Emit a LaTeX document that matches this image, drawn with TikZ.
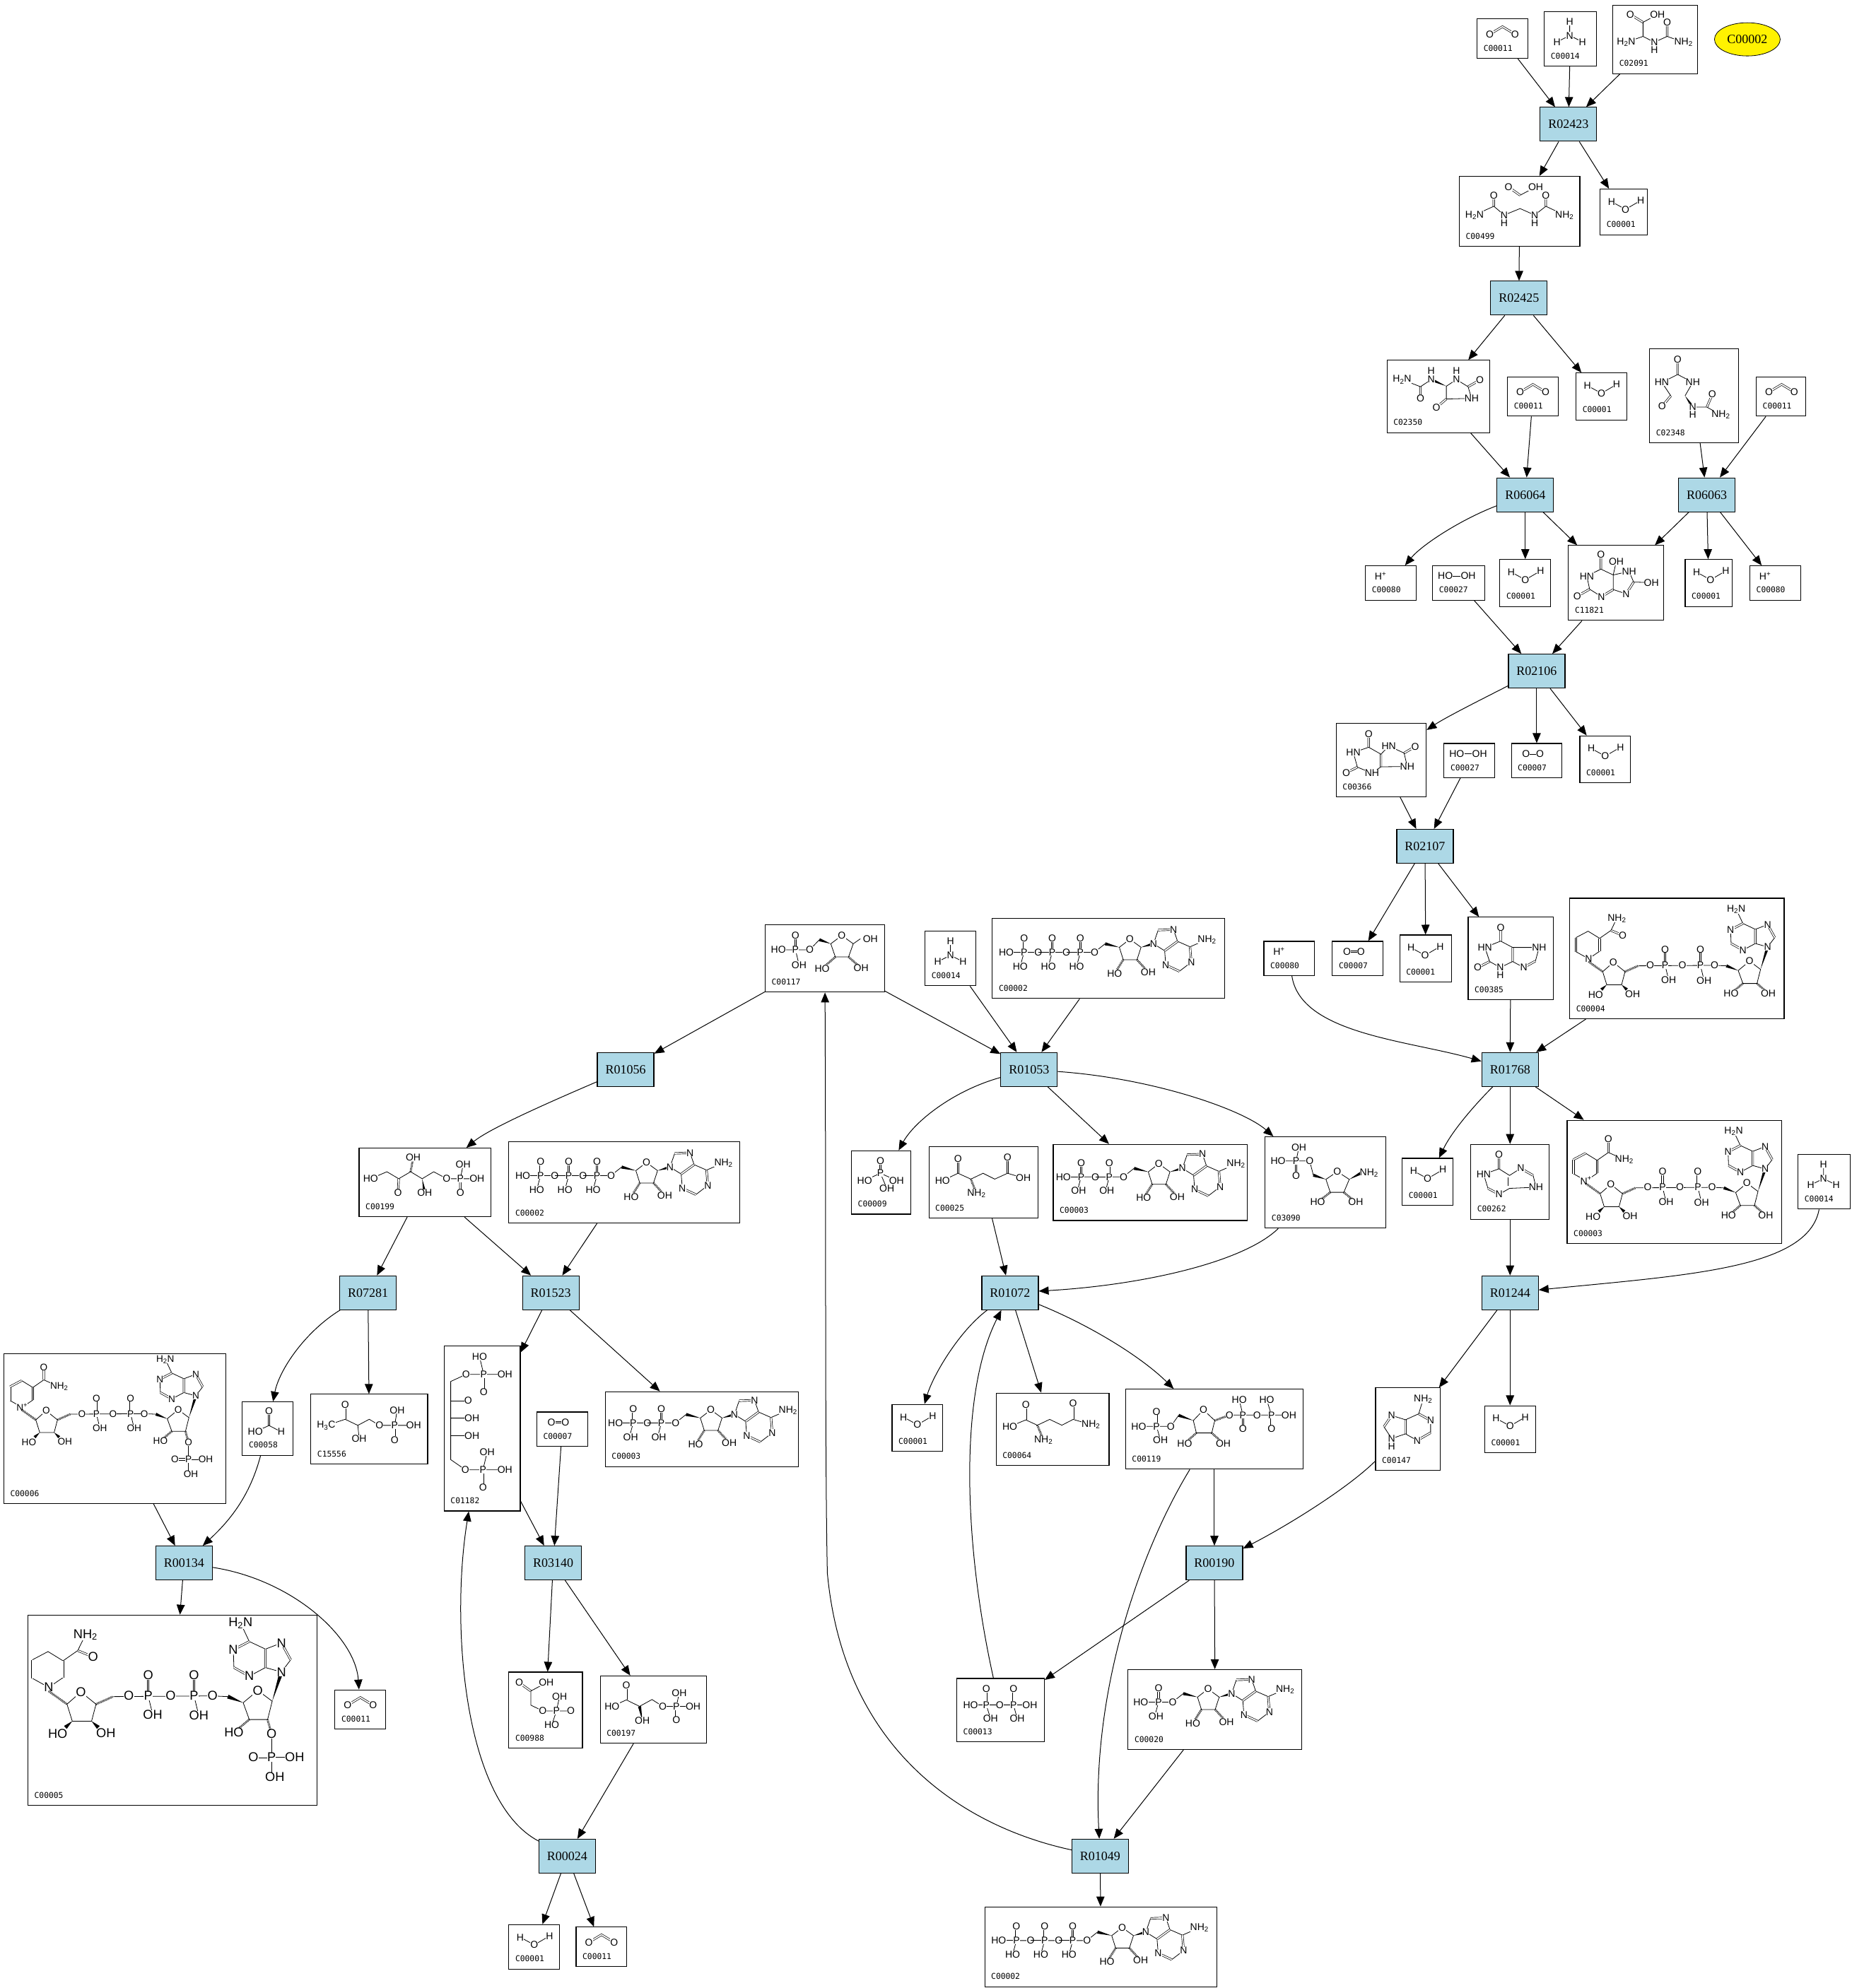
\documentclass[tikz,border=0pt]{standalone}
\usepackage{fontspec}
\setmainfont{Liberation Serif}
\setsansfont{Liberation Sans}
\setmonofont{DejaVu Sans Mono}
\usetikzlibrary{arrows.meta,calc,shapes.geometric}
\definecolor{rxnblue}{RGB}{173,216,230}
\newcounter{atomno}
\newcommand{\atom}[2]{\stepcounter{atomno}\node[atom] (atom\arabic{atomno}) at (#1) {#2};}
\newcommand{\wdg}[2]{\fill (#1) -- ($(#2)!2.2pt!90:(#1)$) -- ($(#2)!2.2pt!-90:(#1)$) -- cycle;}
\newcommand{\cpd}[8][]{%
  \node[cpdbox,minimum width={(#5-#3)*1.795pt},minimum height={(#6-#4)*1.795pt}] (#2) at ({(#3+#5)/2},{(#4+#6)/2}) {};
  \node[cpdid] (#2-id) at (#3+5,#6-8) {#7};
  \pic[#1] at (#3,#4) {#8};}
\tikzset{
  rxn/.style={draw,line width=1.1pt,fill=rxnblue,minimum width=80pt,minimum height=48pt,inner sep=0pt,font=\fontsize{18}{18}\selectfont},
  cpdbox/.style={draw,line width=1.1pt,fill=white,inner sep=0pt},
  cpdid/.style={anchor=west,inner sep=0pt,font=\ttfamily\fontsize{11.3}{11.3}\selectfont},
  atom/.style={fill=white,inner sep=.2pt,font=\sffamily\fontsize{14}{14}\selectfont},
  bond/.style={line width=.8pt},
  dbl/.style={line width=.7pt,double,double distance=1.7pt},
  hash/.style={line width=3pt,dash pattern=on .8pt off 1.1pt},
  arr/.style={line width=1pt,-{Triangle[length=14pt,width=11.5pt]}},
  water/.pic={\draw[bond] (9,10)--(20,16)--(32,9);
    \atom{9,10}{H}\atom{20,16}{O}\atom{32,9}{H}},
  cotwo/.pic={\draw[dbl] (10,12)--(20,6)--(30,12);
    \atom{10,12}{O}\atom{30,12}{O}},
  ammonia/.pic={\draw[bond] (20,8)--(20,19) (10,24)--(20,19)--(30,24);
    \atom{20,8}{H}\atom{20,19}{N}\atom{10,24}{H}\atom{30,24}{H}},
  dioxygen/.pic={\draw[dbl] (12,8)--(22,8);\atom{11.5,8}{O}\atom{22.5,8}{O}},
  peroxide/.pic={\draw[bond] (10,8)--(28,8);\atom{10,8}{HO}\atom{28,8}{OH}},
  proton/.pic={\atom{12,8}{H\textsuperscript{+}}},
  phosphate/.pic={\draw[dbl] (22.8,8)--(22.8,17.8);
    \draw[bond] (10.4,23.4)--(22.8,17.8)--(35.5,23.4) (22.8,17.8)--(27.9,29.9);
    \atom{22.8,8}{O}\atom{22.8,17.8}{P}\atom{10.4,23.4}{HO}\atom{35.5,23.4}{OH}\atom{27.9,29.9}{OH}},
  formate/.pic={\draw[dbl] (21,7.4)--(21,18.6);
    \draw[bond] (10.2,23.6)--(21,18.6)--(30.6,23.6);
    \atom{21,7.4}{O}\atom{10.2,23.6}{HO}\atom{30.6,23.6}{H}},
  allantoate/.pic={\draw[dbl] (13.8,7.4)--(23.8,13.6) (42.8,13.6)--(42.8,24.7);
    \draw[bond] (35.2,7.4)--(23.8,13.6)--(23.8,24.7)--(10.5,29.3) (23.8,24.7)--(32.7,29.3)--(42.8,24.7)--(55.7,29.3);
    \atom{13.8,7.4}{O}\atom{35.2,7.4}{OH}\atom{10.5,29.3}{H\textsubscript{2}N}\atom{32.7,29.3}{N}\atom{32.7,35.3}{H}
    \atom{42.8,13.6}{O}\atom{55.7,29.3}{NH\textsubscript{2}}},
  ureidoglycolate/.pic={\draw[dbl] (38.8,8.4)--(47.9,14.9) (27.2,15.2)--(27.2,23.6) (68.2,15.2)--(68.2,23.6);
    \draw[bond] (60.2,8.4)--(47.9,14.9);
    \draw[bond] (12,30.5)--(27.2,23.6)--(35.4,30.5)--(47.9,25.4)--(59.4,30.5)--(68.2,23.6)--(82.9,30.5);
    \atom{38.8,8.4}{O}\atom{60.2,8.4}{OH}\atom{27.2,15.2}{O}\atom{68.2,15.2}{O}\atom{12,30.5}{H\textsubscript{2}N}
    \atom{35.4,30.5}{N}\atom{35.4,36.6}{H}\atom{59.4,30.5}{N}\atom{59.4,36.6}{H}\atom{82.9,30.5}{NH\textsubscript{2}}},
  allantoin/.pic={\draw[dbl] (26.4,20.8)--(26.4,30) (63.9,20.8)--(73.2,15.6) (46.8,30.5)--(39,37.1);
    \draw[bond] (11.9,15.2)--(26.4,20.8)--(34.9,15.2) (46.8,20.4)--(54.8,15.2)--(63.9,20.8)--(66.7,30)--(46.8,30.5)--cycle;
    \wdg{46.8,20.4}{34.9,15.2}
    \atom{11.9,15.2}{H\textsubscript{2}N}\atom{26.4,30}{O}\atom{34.9,15.2}{N}\atom{34.9,8.2}{H}\atom{54.8,15.2}{N}\atom{54.8,8.2}{H}
    \atom{73.2,15.6}{O}\atom{66.7,30}{NH}\atom{39,37.1}{O}},
  oxuric/.pic={\draw[dbl] (22.1,8.5)--(22.1,20.2) (16.7,37)--(9.8,45.3) (45.1,45.9)--(49.4,35.8);
    \draw[bond] (9.6,26.4)--(22.1,20.2)--(34,26.4)--(27.9,37) (9.6,26.4)--(16.7,37) (34,45.9)--(45.1,45.9)--(56.1,52);
    \wdg{27.9,37}{34,45.9}
    \atom{22.1,8.5}{O}\atom{9.6,26.4}{HN}\atom{34,26.4}{NH}\atom{9.8,45.3}{O}\atom{34,45.9}{N}\atom{34,51.9}{H}
    \atom{49.4,35.8}{O}\atom{56.1,52}{NH\textsubscript{2}}},
  hydroxyurate/.pic={\draw[dbl] (25.6,7)--(25.6,18.6) (16.7,34.4)--(7,39.9) (26,40.3)--(35.3,34.7) (51.4,28.8)--(45.5,38.1);
    \draw[bond] (25.6,18.6)--(14.5,24.1)--(16.7,34.4)--(26,40.3) (35.3,34.7)--(35.3,23.2)--(25.6,18.6);
    \draw[bond] (35.3,23.2)--(37.7,12.6) (35.3,23.2)--(47.8,20.4)--(51.4,28.8)--(65.4,29.2) (45.5,38.1)--(35.3,34.7);
    \atom{25.6,7}{O}\atom{14.5,24.1}{HN}\atom{7,39.9}{O}\atom{26,40.3}{N}\atom{37.7,12.6}{OH}\atom{47.8,20.4}{NH}\atom{65.4,29.2}{OH}\atom{45.5,38.1}{N}},
  urate/.pic={\draw[dbl] (25.6,8.7)--(25.6,19) (16.7,34.7)--(8,39) (35.3,34.4)--(35.3,24.5) (53.5,23.6)--(62.2,18.4);
    \draw[bond] (25.6,19)--(13.5,23.2)--(16.7,34.7)--(28.2,39.4)--(35.3,34.4) (35.3,24.5)--(25.6,19);
    \draw[bond] (35.3,24.5)--(41.4,18)--(53.5,23.6)--(56,34.2)--(35.3,34.4);
    \atom{25.6,8.7}{O}\atom{13.5,23.2}{HN}\atom{8,39}{O}\atom{28.2,39.4}{NH}\atom{41.4,18}{HN}\atom{62.2,18.4}{O}\atom{56,34.2}{NH}},
  xanthine/.pic={\draw[dbl] (25.6,8)--(25.6,18.8) (16.9,34.9)--(7.6,39.6) (35,34.9)--(35,23.8) (53,34.5)--(43.8,39.6);
    \draw[bond] (25.6,18.8)--(13.2,23.8)--(16.9,34.9)--(25.3,39.6)--(35,34.9) (35,23.8)--(25.6,18.8);
    \draw[bond] (35,23.8)--(55.9,23.8)--(53,34.5) (43.8,39.6)--(35,34.9);
    \atom{25.6,8}{O}\atom{13.2,23.8}{HN}\atom{7.6,39.6}{O}\atom{25.3,39.6}{N}\atom{25.3,45.7}{H}\atom{55.9,23.8}{NH}\atom{43.8,39.6}{N}},
  hypoxanthine/.pic={\draw[dbl] (22.3,8.2)--(22.3,19.3) (13.6,34.7)--(22.3,39.4) (39.4,18.9)--(49.2,24.5);
    \draw[bond] (22.3,19.3)--(10.2,23.6)--(13.6,34.7) (22.3,39.4)--(30.6,34.7)--(51.4,33.8)--(49.2,24.5) (22.3,19.3)--(30.6,24.5)--(39.4,18.9);
    \draw[bond] (29.4,33)--(29.4,26);
    \atom{22.3,8.2}{O}\atom{10.2,23.6}{HN}\atom{22.3,39.4}{N}\atom{39.4,18.9}{N}\atom{51.4,33.8}{NH}},
  adenine/.pic={\draw[dbl] (34,20.4)--(43.4,25.6) (43.4,35.3)--(32.8,41.4) (23.6,36.2)--(23.6,25.1) (12.7,21.7)--(6.6,30.6);
    \draw[bond] (37.5,8.9)--(34,20.4)--(23.6,25.1)--(12.7,21.7) (43.4,25.6)--(43.4,35.3) (32.8,41.4)--(23.6,36.2)--(12.7,39.9)--(6.6,30.6);
    \atom{37.5,8.9}{NH\textsubscript{2}}\atom{43.4,25.6}{N}\atom{32.8,41.4}{N}\atom{12.7,21.7}{N}\atom{12.7,39.9}{N}\atom{12.7,45.9}{H}},
  ribosefive/.pic={\draw[dbl] (23.9,8.4)--(23.9,19.7);
    \draw[bond] (10.4,19.7)--(35.1,19.7)--(42.7,11.7) (23.9,19.7)--(26.7,31.6);
    \draw[bond] (51.7,14.9)--(60.4,8.4)--(69.4,14.9)--(65.7,25.3)--(55.3,25.3)--cycle (69.4,14.9)--(75,11) ;
    \wdg{51.7,14.9}{42.7,11.7}
    \draw[hash] (55.3,25.3)--(44.9,34.4) (65.7,25.3)--(75.6,34);
    \atom{10.4,19.7}{HO}\atom{23.9,19.7}{P}\atom{23.9,8.4}{O}\atom{26.7,31.6}{OH}\atom{35.1,19.7}{O}\atom{60.4,8.4}{O}
    \atom{44.9,34.4}{HO}\atom{75.6,34}{OH}\atom{82.9,11.1}{OH}},
  ribulose/.pic={\draw[dbl] (31.2,24.1)--(30.7,35.3) (79.8,24.1)--(79.8,35.3);
    \draw[bond] (9.1,24.1)--(21.9,18.6)--(31.2,24.1)--(40.6,18.6)--(49.7,24.1)--(58.8,18.6)--(69,24.1)--(92.9,24.1) (79.8,24.1)--(82,13);
    \draw[hash] (40.6,18.6)--(42.6,7.4);
    \wdg{49.7,24.1}{51.7,35.3}
    \atom{9.1,24.1}{HO}\atom{30.7,35.3}{O}\atom{42.6,7.4}{OH}\atom{51.7,35.3}{OH}\atom{69,24.1}{O}\atom{79.8,24.1}{P}
    \atom{82,13}{OH}\atom{92.9,24.1}{OH}\atom{79.8,35.3}{O}},
  glutamate/.pic={\draw[dbl] (23,9.3)--(23,20.8) (62,8.4)--(62,20.8);
    \draw[bond] (10.7,26.6)--(23,20.8)--(33.1,25.4)--(42.7,20.8)--(51.9,25.4)--(62,20.8)--(74.4,24.5);
    \draw[hash] (33.1,25.4)--(37.5,36.8);
    \atom{23,9.3}{O}\atom{10.7,26.6}{HO}\atom{37.5,36.8}{NH\textsubscript{2}}\atom{62,8.4}{O}\atom{74.4,24.5}{OH}},
  glutamine/.pic={\draw[dbl] (23.4,9.3)--(23.4,21.2) (60.7,8.4)--(60.7,20.8);
    \draw[bond] (10.8,26.4)--(23.4,21.2)--(32.5,25.4)--(42.2,20.8)--(51.8,25.4)--(60.7,20.8)--(74.7,24.9);
    \draw[hash] (32.5,25.4)--(37.3,37.1);
    \atom{23.4,9.3}{O}\atom{10.8,26.4}{HO}\atom{37.3,37.1}{NH\textsubscript{2}}\atom{60.7,8.4}{O}\atom{74.7,24.9}{NH\textsubscript{2}}},
  ribosylamine/.pic={\draw[dbl] (24.4,19.1)--(24.4,30.6);
    \draw[bond] (24.4,19.1)--(26.6,8.4) (10.2,19.1)--(35.1,19.1)--(38,30.3);
    \draw[bond] (47.9,33.6)--(56.9,27.5)--(66.3,33.6)--(62,43.8)--(51.3,43.8)--cycle;
    \wdg{47.9,33.6}{38,30.3}\wdg{66.3,33.6}{76,28.4}
    \draw[hash] (51.3,43.8)--(41.4,51.6) (62,43.8)--(71.4,51.6);
    \atom{26.6,8.4}{OH}\atom{10.2,19.1}{HO}\atom{24.4,19.1}{P}\atom{24.4,30.6}{O}\atom{35.1,19.1}{O}\atom{56.9,27.5}{O}
    \atom{41.4,51.6}{HO}\atom{71.4,51.6}{OH}\atom{81.9,28.4}{NH\textsubscript{2}}},
  prpp/.pic={\draw[dbl] (24.4,17.6)--(24.4,29.3) (92.5,20.4)--(92.5,31.2) (115,20.4)--(115,31.2);
    \draw[bond] (10.4,29.3)--(35.7,29.3)--(41.8,20.6) (24.4,29.3)--(27.5,40.1);
    \draw[bond] (53.4,24.7)--(61.4,16.3)--(70.3,24.7)--(67.9,34.5)--(55.8,34.5)--cycle;
    \draw[bond] (81.9,20.4)--(128.7,20.4) (92.5,20.4)--(89.6,8.5) (115,20.4)--(111.3,8.5);
    \wdg{53.4,24.7}{41.8,20.6}
    \draw[hash] (55.8,34.5)--(46.6,42.7) (67.9,34.5)--(77,42.7) (70.3,24.7)--(81.9,20.4);
    \atom{10.4,29.3}{HO}\atom{24.4,29.3}{P}\atom{24.4,17.6}{O}\atom{27.5,40.1}{OH}\atom{35.7,29.3}{O}\atom{61.4,16.3}{O}
    \atom{46.6,42.7}{HO}\atom{77,42.7}{OH}\atom{81.9,20.4}{O}\atom{92.5,20.4}{P}\atom{89.6,8.5}{HO}\atom{92.5,31.2}{O}
    \atom{103.6,20.4}{O}\atom{115,20.4}{P}\atom{111.3,8.5}{HO}\atom{115,31.2}{O}\atom{128.7,20.4}{OH}},
  acetylphos/.pic={\draw[dbl] (8.2,8.4)--(17.3,14.9);
    \draw[bond] (29.5,8.4)--(17.3,14.9)--(17.3,26)--(26.7,30.6)--(48.9,30.6) (37.5,30.6)--(40,19.1) (37.5,30.6)--(33.8,41.8);
    \atom{8.2,8.4}{O}\atom{29.5,8.4}{OH}\atom{26.7,30.6}{O}\atom{37.5,30.6}{P}\atom{40,19.1}{OH}\atom{48.9,30.6}{O}\atom{33.8,41.8}{HO}},
  glycerate/.pic={\draw[dbl] (20.6,7.2)--(20.6,18.9) (60,24)--(60,34.7);
    \draw[bond] (9.3,24)--(20.6,18.9)--(31,24)--(40.8,18.6)--(49.3,24)--(73.2,24) (60,24)--(62.3,13.4);
    \wdg{33.2,35.3}{31,24}
    \atom{20.6,7.2}{O}\atom{9.3,24}{HO}\atom{33.2,35.3}{OH}\atom{49.3,24}{O}\atom{60,24}{P}\atom{62.3,13.4}{OH}\atom{73.2,24}{OH}\atom{60,34.7}{O}},
  diphosphate/.pic={\draw[dbl] (23.2,8.2)--(23.2,20.8) (44.7,8.2)--(44.7,20.8);
    \draw[bond] (10.9,20.8)--(57.6,20.8) (23.2,20.8)--(26.6,31.6) (44.7,20.8)--(47.6,31.6);
    \atom{10.9,20.8}{HO}\atom{23.2,20.8}{P}\atom{23.2,8.2}{O}\atom{26.6,31.6}{OH}\atom{33.8,20.8}{O}\atom{44.7,20.8}{P}\atom{44.7,8.2}{O}\atom{47.6,31.6}{OH}\atom{57.6,20.8}{OH}},
  acetol/.pic={\draw[dbl] (27,8.2)--(27,19.7) (66,24.5)--(66,36);
    \draw[bond] (12,24.7)--(27,19.7)--(37,24.5)--(46,19.7)--(54,24.5)--(81,24.5) (37,24.5)--(38,35) (66,24.5)--(68,12.5);
    \atom{12,24.7}{H\textsubscript{3}C}\atom{27,8.2}{O}\atom{38,35}{OH}\atom{54,24.5}{O}\atom{66,24.5}{P}\atom{68,12.5}{OH}\atom{81,24.5}{OH}\atom{66,36}{O}},
  bisphos/.pic={\draw[dbl] (31.2,22.3)--(31.2,36.2) (5.2,42.7)--(18.9,42.7) (30.6,97.5)--(30.6,111.4);
    \draw[bond] (27.9,8.4)--(31.2,22.3) (17.3,22.3)--(47.9,22.3) (17.3,22.3)--(5.2,27.9)--(5.2,89.5)--(16.7,97.5)--(47.9,97.5) (5.2,56.8)--(21.9,56.8) (5.2,70.6)--(21.9,70.6) (30.6,97.5)--(33.9,83.6);
    \atom{27.9,8.4}{HO}\atom{31.2,22.3}{P}\atom{17.3,22.3}{O}\atom{47.9,22.3}{OH}\atom{31.2,36.2}{O}\atom{18.9,42.7}{O}\atom{21.9,56.8}{OH}\atom{21.9,70.6}{OH}
    \atom{16.7,97.5}{O}\atom{30.6,97.5}{P}\atom{33.9,83.6}{OH}\atom{47.9,97.5}{OH}\atom{30.6,111.4}{O}},
  pics/ntp/.style={code={
    \pgfmathsetmacro\oxo{36.2+22.2*(#1-1)}
    \draw[bond] (11,26.6)--(25,26.6);
    \foreach \i in {1,...,#1}{
      \pgfmathsetmacro\px{25+22.2*(\i-1)}
      \draw[bond] (\px,26.6)--({\px+11},26.6) (\px,26.6)--({\px-3},37.7);
      \ifnum\i>1 \draw[bond] ({\px-11},26.6)--(\px,26.6);\fi
      \draw[dbl] (\px,26.6)--(\px,15.6);
      \atom{\px,26.6}{P}\atom{\px,15.6}{O}\atom{{\px+11.2},26.6}{O}
      \ifnum#1=3 \atom{{\px-3},37.7}{HO}\else \atom{{\px-2},37.7}{OH}\fi
    }
    \atom{11,26.6}{HO}
    \begin{scope}[shift={(\oxo,26.6)}]
      \draw[bond] (3,-2.5)--(8.3,-6.7);
      \wdg{19.5,-3.9}{8.3,-6.7}\wdg{36.6,-3.9}{46.4,-6.7}
      \draw[bond] (19.5,-3.9)--(27.8,-10.3)--(36.6,-3.9)--(33.4,5.9)--(22.6,5.9)--cycle;
      \draw[hash] (22.6,5.9)--(15.8,16.7) (33.4,5.9)--(42.3,15.6);
      \draw[bond] (46.4,-6.7)--(50.1,-17.5) (62.2,-17.9)--(65.4,-8.6) (55.2,-1.2)--(46.4,-6.7) (55.2,-1.2)--(56.1,10) (66.8,15)--(76.2,7.8) (75.2,-4.3)--(65.4,-8.6) (75.2,-4.3)--(88.6,-10.1);
      \draw[dbl] (50.1,-17.5)--(62.2,-17.9) (55.2,-1.2)--(65.4,-8.6) (56.1,10)--(66.8,15) (76.2,7.8)--(75.2,-4.3);
      \atom{27.8,-10.3}{O}\atom{15.8,16.7}{HO}\atom{42.3,15.6}{OH}\atom{46.4,-6.7}{N}\atom{62.2,-17.9}{N}\atom{56.1,10}{N}\atom{76.2,7.8}{N}\atom{88.6,-10.1}{NH\textsubscript{2}}
    \end{scope}}},
  pics/nad/.style 2 args={code={
    \draw[bond] (14.9,47.7)--(5,42.2) (5,31)--(14.5,26)--(23.6,31.6) (23.6,41.8)--(14.9,47.7) (23.6,31.6)--(32.5,25.4);
    \draw[dbl] (5,42.2)--(5,31) (23.6,31.6)--(23.6,41.8);
    \ifnum#1=1
      \draw[dbl] (5,31)--(14.5,26) (32.5,25.4)--(32.5,15);
      \draw[bond] (32.5,25.4)--(45,31);
      \atom{32.5,15}{O}\atom{45,31}{NH\textsubscript{2}}\atom{14.9,47.7}{N\textsuperscript{+}}
    \else
      \draw[dbl] (32.5,25.4)--(41.8,29.2);
      \draw[bond] (32.5,25.4)--(37.2,15.8);
      \atom{37.2,15.8}{NH\textsubscript{2}}\atom{41.8,29.2}{O}\atom{14.9,47.7}{N}
    \fi
    \draw[hash] (14.9,50)--(26,57.9) (43.6,57.9)--(53.9,53.3);
    \draw[bond] (26,57.9)--(34.4,50.5)--(43.6,57.9)--(40.9,68.2)--(29.2,68.2)--cycle;
    \wdg{29.2,68.2}{25,72}\wdg{40.9,68.2}{45,72}
    \draw[bond] (53.9,53.3)--(114.2,52.9)--(123.5,53.3) (75.2,52.9)--(78,64.4) (103,52.9)--(105.9,64.8);
    \draw[dbl] (75.2,52.9)--(75.2,40.3) (103,52.9)--(103,40.3);
    \wdg{132.8,57}{123.5,53.3}\wdg{150.4,56.1}{156,38.4}
    \draw[bond] (132.8,57)--(141.7,49.6)--(150.4,56.1)--(147.6,67.2)--(136.5,67.2)--cycle;
    \draw[hash] (136.5,67.2)--(127.2,75);
    \ifnum#2=1
      \draw[hash] (147.6,67.2)--(150,76);
      \draw[bond] (150,76)--(150,102) (150,90)--(164,90);
      \draw[dbl] (150,90)--(139,90);
      \atom{150,76}{O}\atom{150,90}{P}\atom{139,90}{O}\atom{164,90}{OH}\atom{152,102}{OH}
    \else
      \draw[hash] (147.6,67.2)--(156.5,75);
      \atom{156.5,75}{OH}
    \fi
    \draw[bond] (156,38.4)--(161.6,31) (156,20.8)--(146.3,24.5) (146.3,35.7)--(156,38.4) (146.3,35.7)--(136.5,40.9) (127.2,35.7)--(126.8,24.9) (136.5,19.9)--(146.3,24.5) (136.5,19.9)--(131.2,8.7);
    \draw[dbl] (161.6,31)--(156,20.8) (146.3,24.5)--(146.3,35.7) (136.5,40.9)--(127.2,35.7) (126.8,24.9)--(136.5,19.9);
    \atom{34.4,50.5}{O}\atom{20.4,76}{HO}\atom{49.6,75.6}{OH}\atom{63.5,52.9}{O}\atom{75.2,52.9}{P}\atom{75.2,40.3}{O}\atom{78,64.4}{OH}\atom{88.8,52.9}{O}\atom{103,52.9}{P}\atom{103,40.3}{O}\atom{105.9,64.8}{OH}\atom{114.2,52.9}{O}
    \atom{141.7,49.6}{O}\atom{127.2,75}{HO}\atom{156,38.4}{N}\atom{156,20.8}{N}\atom{136.5,40.9}{N}\atom{126.8,24.9}{N}\atom{131.2,8.7}{H\textsubscript{2}N}}}
}
\begin{document}
\begin{tikzpicture}[x=1.795pt,y=-1.795pt]
  \useasboundingbox (0,0) rectangle (1459,1567);
  % reactions
  \node[rxn] (r02423) at (1236,98) {R02423};
  \node[rxn] (r02425) at (1197,235) {R02425};
  \node[rxn] (r06064) at (1202,390) {R06064};
  \node[rxn] (r06063) at (1345,390) {R06063};
  \node[rxn] (r02106) at (1211,529) {R02106};
  \node[rxn] (r02107) at (1123,667) {R02107};
  \node[rxn] (r01768) at (1190,843) {R01768};
  \node[rxn] (r01244) at (1190,1019) {R01244};
  \node[rxn] (r01053) at (811,843) {R01053};
  \node[rxn] (r01056) at (493,843) {R01056};
  \node[rxn] (r01072) at (796,1019) {R01072};
  \node[rxn] (r01523) at (434,1019) {R01523};
  \node[rxn] (r07281) at (290,1019) {R07281};
  \node[rxn] (r00134) at (145,1232) {R00134};
  \node[rxn] (r03140) at (436,1232) {R03140};
  \node[rxn] (r00190) at (957,1232) {R00190};
  \node[rxn] (r01049) at (867,1463) {R01049};
  \node[rxn] (r00024) at (447,1463) {R00024};
  \node[draw,line width=.8pt,ellipse,fill=yellow,minimum width=93pt,minimum height=47pt,inner sep=0pt,font=\fontsize{18}{18}\selectfont] (c00002top) at (1377,31) {C00002};
  % compounds
  \cpd{c00011a}{1164}{15}{1204}{46}{C00011}{cotwo}
  \cpd{c00014a}{1217}{9}{1258}{52}{C00014}{ammonia}
  \cpd{c02091}{1271}{4}{1338}{58}{C02091}{allantoate}
  \cpd{c00499}{1150}{139}{1245}{194}{C00499}{ureidoglycolate}
  \cpd{c00001a}{1261}{149}{1298}{185}{C00001}{water}
  \cpd{c02350}{1093}{284}{1174}{341}{C02350}{allantoin}
  \cpd{c00011b}{1188}{297}{1228}{328}{C00011}{cotwo}
  \cpd{c00001b}{1242}{294}{1282}{331}{C00001}{water}
  \cpd{c02348}{1300}{275}{1370}{349}{C02348}{oxuric}
  \cpd{c00011c}{1384}{297}{1423}{328}{C00011}{cotwo}
  \cpd{c00080a}{1076}{446}{1116}{473}{C00080}{proton}
  \cpd{c00027a}{1129}{446}{1170}{473}{C00027}{peroxide}
  \cpd{c00001c}{1182}{441}{1222}{478}{C00001}{water}
  \cpd{c11821}{1236}{430}{1311}{489}{C11821}{hydroxyurate}
  \cpd{c00001d}{1328}{441}{1365}{478}{C00001}{water}
  \cpd{c00080b}{1379}{446}{1419}{473}{C00080}{proton}
  \cpd{c00366}{1053}{570}{1124}{628}{C00366}{urate}
  \cpd{c00027b}{1138}{586}{1178}{613}{C00027}{peroxide}
  \cpd{c00007a}{1191}{586}{1231}{613}{C00007}{dioxygen}
  \cpd{c00001e}{1245}{580}{1285}{617}{C00001}{water}
  \cpd{c00007b}{1050}{742}{1090}{769}{C00007}{dioxygen}
  \cpd{c00001f}{1103}{737}{1144}{774}{C00001}{water}
  \cpd{c00385}{1157}{723}{1224}{788}{C00385}{xanthine}
  \cpd{c00004}{1237}{708}{1406}{803}{C00004}{nad={0}{0}}
  \cpd{c00080c}{996}{742}{1036}{769}{C00080}{proton}
  \cpd{c00014b}{729}{734}{769}{777}{C00014}{ammonia}
  \cpd{c00002a}{782}{724}{965}{787}{C00002}{ntp=3}
  \cpd{c00117}{603}{729}{697}{782}{C00117}{ribosefive}
  \cpd{c00199}{283}{905}{387}{959}{C00199}{ribulose}
  \cpd{c00002b}{401}{900}{583}{964}{C00002}{ntp=3}
  \cpd{c00009}{671}{907}{718}{957}{C00009}{phosphate}
  \cpd{c00025}{732}{904}{818}{960}{C00025}{glutamate}
  \cpd[shift={(-3,-1)}]{c00003a}{830}{902}{983}{962}{C00003}{ntp=2}
  \cpd{c03090}{997}{896}{1092}{968}{C03090}{ribosylamine}
  \cpd{c00001g}{1105}{913}{1145}{950}{C00001}{water}
  \cpd{c00262}{1159}{902}{1221}{961}{C00262}{hypoxanthine}
  \cpd{c00003b}{1235}{883}{1404}{980}{C00003}{nad={1}{0}}
  \cpd{c00014c}{1417}{910}{1458}{953}{C00014}{ammonia}
  \cpd[shift={(0,-4)},scale=.97,transform shape]{c00006}{3}{1067}{178}{1185}{C00006}{nad={1}{1}}
  \cpd{c00058}{191}{1105}{231}{1147}{C00058}{formate}
  \cpd{c15556}{245}{1099}{337}{1154}{C15556}{acetol}
  \cpd{c01182}{350}{1061}{410}{1191}{C01182}{bisphos}
  \cpd{c00007c}{423}{1113}{463}{1140}{C00007}{dioxygen}
  \cpd[shift={(-3,-2)}]{c00003c}{477}{1097}{629}{1156}{C00003}{ntp=2}
  \cpd{c00001h}{703}{1107}{743}{1144}{C00001}{water}
  \cpd{c00064}{785}{1098}{874}{1155}{C00064}{glutamine}
  \cpd{c00119}{887}{1095}{1027}{1158}{C00119}{prpp}
  \cpd{c00147}{1084}{1094}{1135}{1159}{C00147}{adenine}
  \cpd{c00001i}{1170}{1108}{1210}{1145}{C00001}{water}
  \cpd[shift={(-3,-5)},scale=1.3,transform shape]{c00005}{22}{1273}{250}{1423}{C00005}{nad={0}{1}}
  \cpd{c00011d}{264}{1332}{304}{1363}{C00011}{cotwo}
  \cpd{c00988}{401}{1318}{459}{1378}{C00988}{acetylphos}
  \cpd{c00197}{473}{1321}{557}{1374}{C00197}{glycerate}
  \cpd{c00013}{754}{1323}{823}{1373}{C00013}{diphosphate}
  \cpd[shift={(-1,-1)}]{c00020}{889}{1316}{1026}{1379}{C00020}{ntp=1}
  \cpd{c00001j}{401}{1517}{441}{1552}{C00001}{water}
  \cpd{c00011e}{454}{1519}{494}{1550}{C00011}{cotwo}
  \cpd{c00002c}{776}{1503}{959}{1566}{C00002}{ntp=3}
  % straight edges
  \foreach \a/\b in {c00011a/r02423,c00014a/r02423,c02091/r02423,r02423/c00499,r02423/c00001a,c00499/r02425,
    r02425/c02350,r02425/c00001b,c02350/r06064,c00011b/r06064,c02348/r06063,c00011c/r06063,
    r06064/c00001c,r06064/c11821,r06063/c11821,r06063/c00001d,r06063/c00080b,c00027a/r02106,c11821/r02106,
    r02106/c00007a,r02106/c00001e,c00366/r02107,c00027b/r02107,r02107/c00007b,r02107/c00001f,r02107/c00385,
    c00385/r01768,c00004/r01768,r01768/c00262,r01768/c00003b,c00262/r01244,r01244/c00147,r01244/c00001i,
    c00119/r00190,r00190/c00013,r00190/c00020,c00020/r01049,r01049/c00002c,r01072/c00064,c00025/r01072,
    r01053/c00003a,c00014b/r01053,c00002a/r01053,c00117/r01053,c00117/r01056,c00199/r07281,c00199/r01523,
    c00002b/r01523,r07281/c15556,r01523/c01182,r01523/c00003c,c01182/r03140,c00007c/r03140,c00006/r00134,
    r00134/c00005,r03140/c00988,r03140/c00197,c00197/r00024,r00024/c00001j,r00024/c00011e}{
    \draw[arr] (\a) to (\b);
  }
  % curved edges
  \draw[arr] (r06064) .. controls (1150,410) and (1120,430) .. (c00080a);
  \draw[arr] (r02106) .. controls (1170,550) and (1140,565) .. (c00366);
  \draw[arr] (c00080c) .. controls (1025,815) and (1110,820) .. (r01768);
  \draw[arr] (r01768) .. controls (1165,868) and (1145,890) .. (c00001g);
  \draw[arr] (c00014c) .. controls (1425,1000) and (1330,1005) .. (r01244);
  \draw[arr] (c00147) .. controls (1060,1175) and (1010,1205) .. (r00190);
  \draw[arr] (c00119) .. controls (900,1220) and (860,1330) .. (r01049);
  \draw[arr] (r01049) .. controls (760,1440) and (665,1380) .. (652,1240) .. controls (650,1150) and (651,950) .. (c00117);
  \draw[arr] (r00024) .. controls (365,1420) and (355,1280) .. (c01182);
  \draw[arr] (r00134) .. controls (230,1245) and (280,1290) .. (c00011d);
  \draw[arr] (c00058) .. controls (198,1175) and (185,1195) .. (r00134);
  \draw[arr] (r07281) .. controls (240,1050) and (220,1080) .. (c00058);
  \draw[arr] (r01056) .. controls (430,870) and (385,890) .. (c00199);
  \draw[arr] (r01053) .. controls (750,860) and (720,885) .. (c00009);
  \draw[arr] (r01053) .. controls (910,850) and (980,875) .. (c03090);
  \draw[arr] (c03090) .. controls (980,995) and (900,1013) .. (r01072);
  \draw[arr] (r01072) .. controls (755,1050) and (735,1085) .. (c00001h);
  \draw[arr] (r01072) .. controls (860,1045) and (900,1070) .. (c00119);
  \draw[arr] (c00013) .. controls (760,1220) and (755,1100) .. (r01072);
\end{tikzpicture}
\end{document}
